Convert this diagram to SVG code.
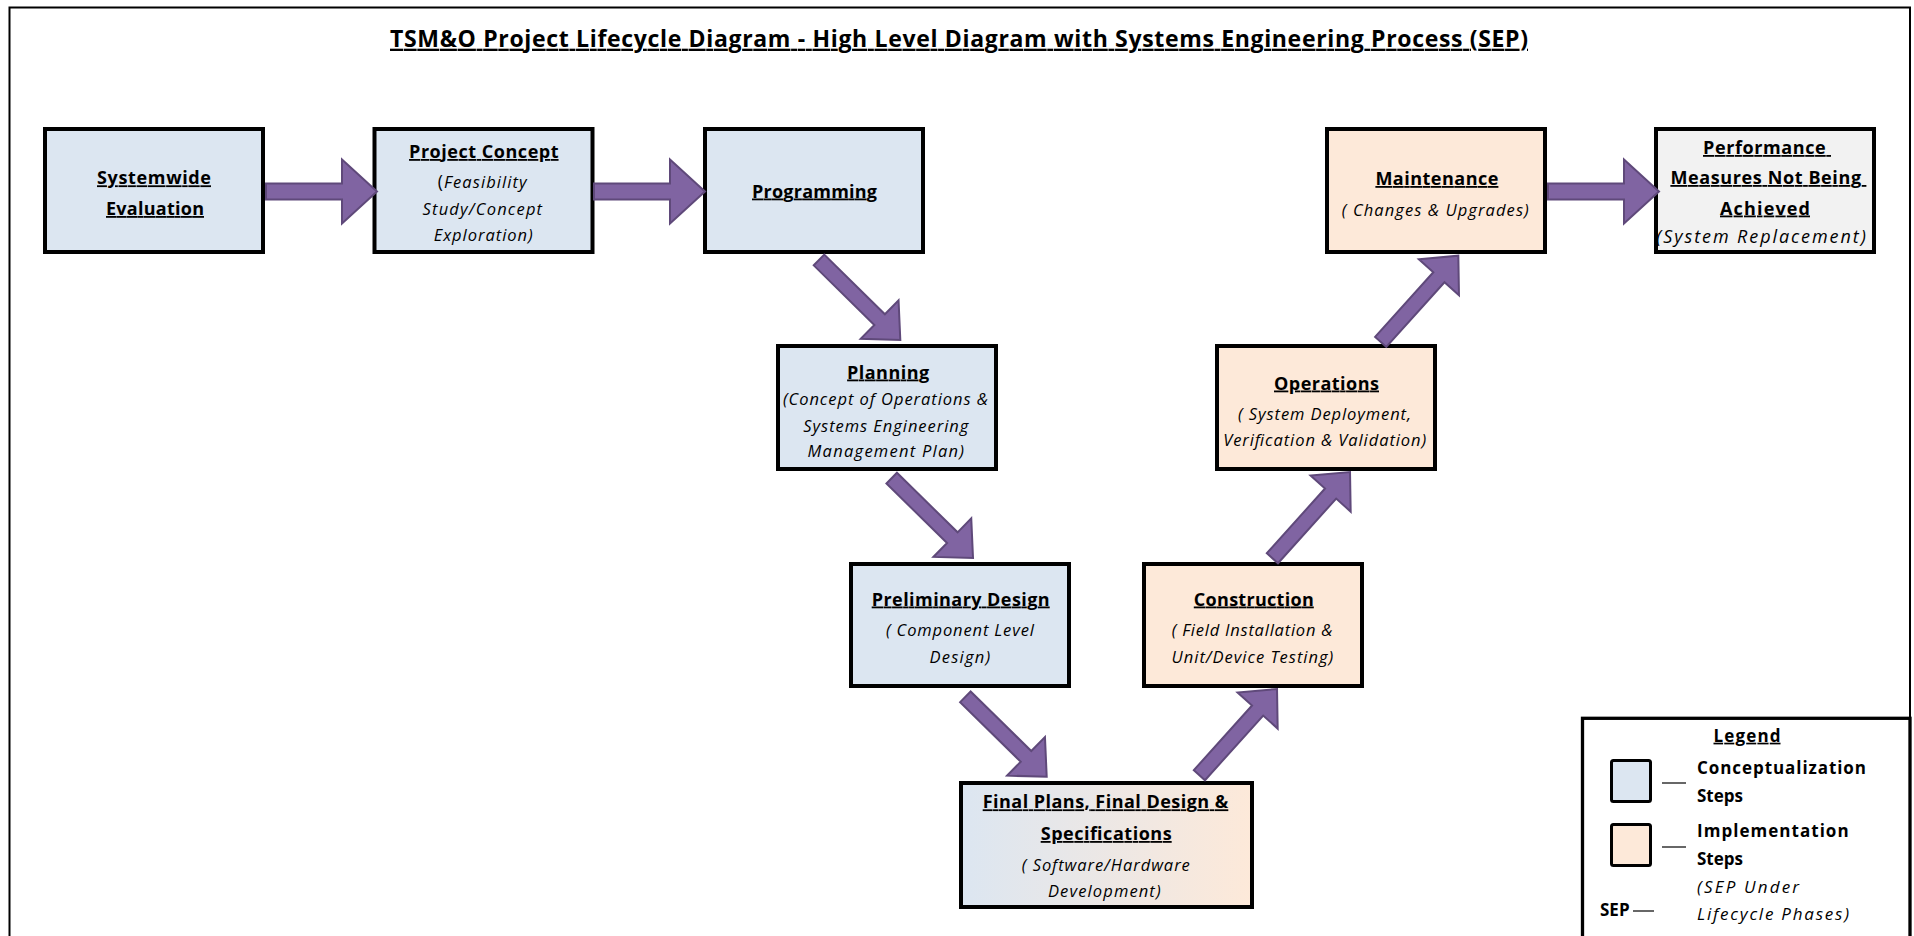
<svg xmlns="http://www.w3.org/2000/svg" width="1914" height="936" viewBox="0 0 1914 936">
<defs>
<linearGradient id="gradFinal" x1="0" y1="0" x2="1" y2="0">
<stop offset="0" stop-color="#dce6f1"/>
<stop offset="1" stop-color="#fde9d9"/>
</linearGradient>
<style>
.box{stroke:#000;stroke-width:4}
.blue{fill:#dce6f1}
.peach{fill:#fde9d9}
.grey{fill:#f2f2f2}
.grad{fill:url(#gradFinal)}
text{font-family:"Open Sans","Liberation Sans",Arial,sans-serif;fill:#000}
.t{font-weight:700;font-size:18px;text-decoration:underline;text-anchor:middle}
.s{font-style:italic;font-size:16.5px;text-anchor:middle}
.title{font-weight:700;font-size:23px;text-decoration:underline;text-anchor:middle}
.lg{font-weight:700;font-size:17px}
.lgi{font-style:italic;font-size:17px}
.arrow{fill:#8064a2;stroke:#5f497a;stroke-width:2;stroke-linejoin:miter}
.dash{stroke:#000;stroke-width:1.2}
</style>
</defs>
<rect x="0" y="0" width="1914" height="936" fill="#fff"/>
<rect id="frame" x="9.5" y="7.5" width="1900.5" height="960" fill="none" stroke="#000" stroke-width="2"/>
<text id="title" class="title" x="959" y="46.7" textLength="1138">TSM&amp;O Project Lifecycle Diagram - High Level Diagram with Systems Engineering Process (SEP)</text>

<g id="node-systemwide">
<rect class="box blue" x="45" y="129" width="218" height="123"/>
<text class="t" x="154" y="184.3" textLength="114">Systemwide</text>
<text class="t" x="155" y="215" textLength="98">Evaluation</text>
</g>
<g id="node-project-concept">
<rect class="box blue" x="374.5" y="129" width="218" height="123"/>
<text class="t" x="483.8" y="158" textLength="149.5">Project Concept</text>
<text class="s" x="482.2" y="188" textLength="89"><tspan font-style="normal" font-size="17.5px">(</tspan>Feasibility</text>
<text class="s" x="482.3" y="214.5" textLength="119.5">Study/Concept</text>
<text class="s" x="483.2" y="241" textLength="99">Exploration)</text>
</g>
<g id="node-programming">
<rect class="box blue" x="705" y="129" width="218" height="123"/>
<text class="t" x="814.5" y="197.5" textLength="125">Programming</text>
</g>
<g id="node-planning">
<rect class="box blue" x="778" y="346" width="218" height="123"/>
<text class="t" x="888.1" y="378.5" textLength="82">Planning</text>
<text class="s" x="885.4" y="405" textLength="205">(Concept of Operations &amp;</text>
<text class="s" x="885.8" y="431.5" textLength="165">Systems Engineering</text>
<text class="s" x="885.8" y="457.3" textLength="156.5">Management Plan)</text>
</g>
<g id="node-preliminary-design">
<rect class="box blue" x="851" y="564" width="218" height="122"/>
<text class="t" x="960.7" y="605.5" textLength="178">Preliminary Design</text>
<text class="s" x="959.9" y="636" textLength="148">( Component Level</text>
<text class="s" x="959.9" y="662.5" textLength="60.6">Design)</text>
</g>
<g id="node-final-plans">
<rect class="box grad" x="961" y="783" width="291" height="124"/>
<text class="t" x="1105.5" y="808.3" textLength="245.6">Final Plans, Final Design &amp;</text>
<text class="t" x="1106.2" y="840" textLength="131">Specifications</text>
<text class="s" x="1105.8" y="870.7" textLength="168">( Software/Hardware</text>
<text class="s" x="1104.3" y="897.3" textLength="112.7">Development)</text>
</g>
<g id="node-construction">
<rect class="box peach" x="1144" y="564" width="218" height="122"/>
<text class="t" x="1253.8" y="605.5" textLength="120">Construction</text>
<text class="s" x="1252" y="636" textLength="160.7">( Field Installation &amp;</text>
<text class="s" x="1252.4" y="662.5" textLength="161.6">Unit/Device Testing)</text>
</g>
<g id="node-operations">
<rect class="box peach" x="1217" y="346" width="218" height="123"/>
<text class="t" x="1326.5" y="389.5" textLength="105">Operations</text>
<text class="s" x="1324.5" y="419.5" textLength="173">( System Deployment,</text>
<text class="s" x="1324.7" y="446" textLength="203">Verification &amp; Validation)</text>
</g>
<g id="node-maintenance">
<rect class="box peach" x="1327" y="129" width="218" height="123"/>
<text class="t" x="1436.9" y="185" textLength="123">Maintenance</text>
<text class="s" x="1435.3" y="215.5" textLength="187">( Changes &amp; Upgrades)</text>
</g>
<g id="node-performance">
<rect class="box grey" x="1656" y="129" width="218" height="123"/>
<text class="t" x="1767" y="154" textLength="128" xml:space="preserve" style="white-space:pre">Performance </text>
<text class="t" x="1768.4" y="184" textLength="196" xml:space="preserve" style="white-space:pre">Measures Not Being </text>
<text class="t" x="1765" y="214.5" textLength="90">Achieved</text>
<text class="s" x="1761" y="243" textLength="209.5" style="font-size:18px">(System Replacement)</text>
</g>

<g id="connectors">
<path class="arrow" transform="translate(266,191.5)" d="M0,-8 H76 V-32 L111,0 L76,32 V8 H0 Z"/>
<path class="arrow" transform="translate(594,191.5)" d="M0,-8 H76 V-32 L111,0 L76,32 V8 H0 Z"/>
<path class="arrow" transform="translate(1548,191.5)" d="M0,-8 H76 V-32 L111,0 L76,32 V8 H0 Z"/>
<path class="arrow" transform="translate(819,260) rotate(44.5)" d="M0,-7.5 H85 V-27 L114,0 L85,27 V7.5 H0 Z"/>
<path class="arrow" transform="translate(891.7,478.1) rotate(44.5)" d="M0,-7.5 H85 V-27 L114,0 L85,27 V7.5 H0 Z"/>
<path class="arrow" transform="translate(965.4,696.8) rotate(44.5)" d="M0,-7.5 H85 V-27 L114,0 L85,27 V7.5 H0 Z"/>
<path class="arrow" transform="translate(1199.4,775.2) rotate(-48)" d="M0,-7.5 H87 V-27 L116,0 L87,27 V7.5 H0 Z"/>
<path class="arrow" transform="translate(1272.4,558.2) rotate(-48)" d="M0,-7.5 H87 V-27 L116,0 L87,27 V7.5 H0 Z"/>
<path class="arrow" transform="translate(1380.7,341.9) rotate(-48)" d="M0,-7.5 H87 V-27 L116,0 L87,27 V7.5 H0 Z"/>
</g>

<g id="legend">
<rect x="1582.5" y="718.3" width="327.5" height="300" fill="#fff" stroke="#000" stroke-width="3.3"/>
<text class="lg" x="1747" y="741.7" text-anchor="middle" text-decoration="underline" textLength="67">Legend</text>
<rect class="blue" x="1611.5" y="760.5" width="39" height="41" rx="2" stroke="#000" stroke-width="3"/>
<line class="dash" x1="1662" y1="783" x2="1686" y2="783"/>
<text class="lg" x="1697" y="774" textLength="169">Conceptualization</text>
<text class="lg" x="1697" y="801.7">Steps</text>
<rect class="peach" x="1611.5" y="824.5" width="39" height="41" rx="2" stroke="#000" stroke-width="3"/>
<line class="dash" x1="1662" y1="847" x2="1686" y2="847"/>
<text class="lg" x="1697" y="837.3" textLength="151.6">Implementation</text>
<text class="lg" x="1697" y="865">Steps</text>
<text class="lg" x="1600" y="916">SEP</text>
<line class="dash" x1="1633" y1="911" x2="1654" y2="911"/>
<text class="lgi" x="1697" y="892.7" textLength="102">(SEP Under</text>
<text class="lgi" x="1697" y="920" textLength="152">Lifecycle Phases)</text>
</g>
</svg>
